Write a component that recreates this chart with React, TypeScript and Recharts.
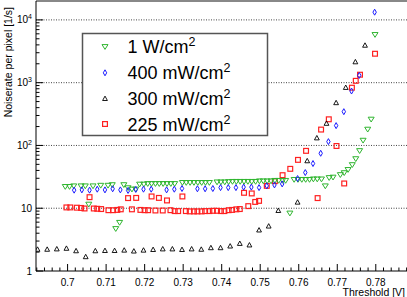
import React from 'react';
import { ScatterChart, Scatter, XAxis, YAxis, ReferenceLine } from 'recharts';

// 1 W/cm2 (green, open down-triangles)
const x1W = [
  0.6994, 0.7005, 0.7016, 0.7035, 0.7046, 0.7055, 0.7066, 0.7086, 0.7105, 0.7116,
  0.7125, 0.7135, 0.7146, 0.7157, 0.7167, 0.7177, 0.7187, 0.7198, 0.7208, 0.7218,
  0.7228, 0.7238, 0.7248, 0.7258, 0.7268, 0.7278, 0.7298, 0.7308, 0.7318, 0.7328,
  0.7338, 0.7348, 0.7358, 0.7368, 0.7388, 0.7398, 0.7408, 0.7418, 0.7428, 0.7438,
  0.7448, 0.7458, 0.7468, 0.7478, 0.7488, 0.7498, 0.7508, 0.7518, 0.7528, 0.7538,
  0.7548, 0.7558, 0.7566, 0.7577, 0.7588, 0.7598, 0.7608, 0.7618, 0.7628, 0.7638,
  0.7648, 0.7659, 0.7669, 0.7679, 0.7689, 0.7708, 0.7718, 0.7728, 0.7739, 0.7748,
  0.7758, 0.7767, 0.7779, 0.7788, 0.7798,
];
const y1W = [
  22, 22, 22.5, 22.5, 22.5, 11.5, 22.5, 23, 23, 23.5,
  4.7, 5.9, 23.5, 21, 20, 20, 24, 24, 24.5, 24.5,
  24.5, 24.5, 24.5, 24.5, 24.5, 24.5, 25.5, 25.5, 25.5, 25.5,
  25.5, 25.5, 25.5, 25.5, 26, 26, 26, 26.3, 26.5, 26.5,
  26.5, 26.5, 26.5, 26.5, 26.5, 27, 27, 27, 27, 27.5,
  27.5, 27.5, 27.5, 8.3, 28.5, 28.5, 28.5, 28.5, 28.5, 29,
  29, 29, 22.5, 30.5, 31, 34, 36.5, 41, 49, 61,
  82, 120, 180, 260, 5800,
];

// 400 mW/cm2 (blue, open diamonds)
const x400 = [
  0.7017, 0.7037, 0.7057, 0.7077, 0.7097, 0.7117, 0.7137, 0.7157, 0.7177, 0.7197,
  0.7217, 0.7257, 0.7277, 0.7297, 0.7337, 0.7357, 0.7377, 0.7397, 0.7417, 0.7437,
  0.7457, 0.7477, 0.7497, 0.7517, 0.7537, 0.7557, 0.7597, 0.7617, 0.7637, 0.7657,
  0.7677, 0.7697, 0.7717, 0.7737, 0.7757, 0.7797,
];
const y400 = [
  19.4, 19.6, 19.4, 20.1, 19.6, 20.4, 19.6, 19.2, 19.9, 20.1,
  20.1, 19.6, 20.1, 20.6, 20.4, 20.4, 20.6, 21.3, 21.3, 21.3,
  21.7, 21.7, 21.3, 22.7, 23.5, 24.4, 29.7, 37, 51.5, 75,
  115, 207, 345, 736, 1306, 13270,
];

// 300 mW/cm2 (black, open up-triangles)
const x300 = [
  0.6922, 0.6947, 0.6972, 0.6997, 0.7022, 0.7047, 0.7072, 0.7097, 0.7122, 0.7147,
  0.7172, 0.7197, 0.7222, 0.7247, 0.7272, 0.7297, 0.7322, 0.7347, 0.7372, 0.7397,
  0.7422, 0.7447, 0.7472, 0.7497, 0.7522, 0.7547, 0.7597, 0.7622, 0.7647, 0.7672,
  0.7697, 0.7722, 0.7747, 0.7772,
];
const y300 = [
  2.22, 2.22, 2.25, 2.3, 2.1, 1.69, 2.1, 2.12, 2.12, 2.15,
  2.08, 2.15, 2.2, 2.25, 2.25, 2.2, 2.25, 2.22, 2.35, 2.35,
  2.5, 2.75, 2.6, 4.5, 5.2, 9.2, 12.5, 57, 132, 225,
  480, 840, 2150, 3950,
];

// 225 mW/cm2 (red, open squares)
const x225 = [
  0.6997, 0.7007, 0.7024, 0.7035, 0.7044, 0.7057, 0.7068, 0.7077, 0.7087, 0.7106,
  0.7118, 0.7129, 0.7138, 0.7157, 0.7167, 0.7178, 0.7189, 0.72, 0.7209, 0.7218,
  0.7228, 0.7237, 0.7247, 0.7258, 0.7267, 0.7278, 0.7287, 0.7298, 0.7307, 0.7317,
  0.7328, 0.7337, 0.7348, 0.7357, 0.7368, 0.7377, 0.7388, 0.7398, 0.7407, 0.7418,
  0.7427, 0.7438, 0.7447, 0.7458, 0.7469, 0.7478, 0.7487, 0.7497, 0.7517, 0.7538,
  0.7558, 0.7578, 0.7598, 0.7619, 0.7649, 0.7658, 0.7678, 0.7698, 0.7718, 0.7738,
  0.7748, 0.7759, 0.7798,
];
const y225 = [
  10.3, 10.3, 10.2, 10.1, 9.9, 15, 9.9, 9.8, 9.7, 9.3,
  9.3, 9.4, 9.6, 14.5, 9.6, 14.6, 9.4, 9.3, 9.3, 15.4,
  9.2, 14.6, 9.2, 13.3, 9.3, 9.0, 9.0, 15.4, 9.0, 8.9,
  8.9, 8.9, 8.9, 9.0, 9.0, 9.1, 9.1, 9.0, 9.0, 9.3,
  9.4, 9.6, 9.7, 17.6, 10.8, 17.2, 12.6, 13.1, 22.7, 27,
  33.6, 42.4, 58.9, 82, 14.5, 179, 261, 98, 24.8, 832,
  1070, 1340, 2890,
];

const legendLabels = ['1 W/cm', '400 mW/cm', '300 mW/cm', '225 mW/cm'];

const majorXTicks = [0.7, 0.71, 0.72, 0.73, 0.74, 0.75, 0.76, 0.77, 0.78];
const minorXTicks = Array.from({ length: 49 }, (_, i) => +(0.692 + 0.002 * i).toFixed(3));
const majorYTicks = [1, 10, 100, 1000, 10000];
const yTickLabels = [['1', ''], ['10', ''], ['10', '2'], ['10', '3'], ['10', '4']];
const minorYTicks: number[] = [];
[1, 10, 100, 1000].forEach((d) => {
  for (let m = 2; m <= 9; m++) minorYTicks.push(m * d);
});

const GREEN = '#2fb52f';
const BLUE = '#1a1aff';
const BLACK = '#000';
const RED = '#ff2020';
const FONT = '"Liberation Sans", Arial, Helvetica, sans-serif';

const PLOT_LEFT = 36;

const toPoints = (xs: number[], ys: number[]) => xs.map((x, i) => ({ x, y: ys[i] }));

const DownTri = ({ cx, cy }: any) => (
  <polygon points={`${cx - 3},${cy - 2.2} ${cx + 3},${cy - 2.2} ${cx},${cy + 2.6}`} fill="none" stroke={GREEN} strokeWidth={1} />
);
const UpTri = ({ cx, cy }: any) => (
  <polygon points={`${cx - 2.4},${cy + 2} ${cx + 2.4},${cy + 2} ${cx},${cy - 2.4}`} fill="none" stroke={BLACK} strokeWidth={0.9} />
);
const Diamond = ({ cx, cy }: any) => (
  <polygon points={`${cx},${cy - 3} ${cx + 1.7},${cy} ${cx},${cy + 3} ${cx - 1.7},${cy}`} fill="none" stroke={BLUE} strokeWidth={1} />
);
const Square = ({ cx, cy }: any) => (
  <rect x={cx - 2.4} y={cy - 2.4} width={4.8} height={4.8} fill="none" stroke={RED} strokeWidth={1.2} />
);

const markers = [DownTri, Diamond, UpTri, Square];

const XTick = ({ x, y, payload }: any) => {
  const v = payload.value;
  const major = majorXTicks.some((t) => Math.abs(t - v) < 1e-6);
  return (
    <g>
      <line x1={x} x2={x} y1={y} y2={y - (major ? 7 : 3.5)} stroke="#000" strokeWidth={1} />
      {major && (
        <text x={x} y={y + 14.5} textAnchor="middle" fontSize={10} fontFamily={FONT} fill="#000">
          {String(v)}
        </text>
      )}
    </g>
  );
};

const YTick = ({ x, y, payload }: any) => {
  const v = payload.value;
  const idx = majorYTicks.indexOf(v);
  const major = idx >= 0;
  return (
    <g>
      <line x1={PLOT_LEFT} x2={PLOT_LEFT + (major ? 7 : 3.5)} y1={y} y2={y} stroke="#000" strokeWidth={1} />
      {major && (
        <text x={PLOT_LEFT - 4} y={y + 3.5} textAnchor="end" fontSize={10} fontFamily={FONT} fill="#000">
          {yTickLabels[idx][0]}
          {yTickLabels[idx][1] && (
            <tspan dy={-4} fontSize={7}>
              {yTickLabels[idx][1]}
            </tspan>
          )}
        </text>
      )}
    </g>
  );
};

const XTitle = () => (
  <text x={405} y={296} textAnchor="end" fontSize={10.5} fontFamily={FONT} fill="#000">
    Threshold [V]
  </text>
);
const YTitle = () => (
  <text transform="translate(11.5, 7) rotate(-90)" textAnchor="end" fontSize={10.5} fontFamily={FONT} fill="#000">
    Noiserate per pixel [1/s]
  </text>
);

const legendRowBaselines = [53.3, 79.3, 105, 130.5];

const App: React.FC = () => {
  const series = [
    { key: '225', data: toPoints(x225, y225), shape: Square },
    { key: '300', data: toPoints(x300, y300), shape: UpTri },
    { key: '1W', data: toPoints(x1W, y1W), shape: DownTri },
    { key: '400', data: toPoints(x400, y400), shape: Diamond },
  ];

  return (
    <div style={{ position: 'absolute', left: 0, top: 0, width: 407, height: 297, background: '#fff', overflow: 'hidden' }}>
      <ScatterChart width={407} height={297} margin={{ top: 1, right: 0, bottom: 0, left: 0 }}>
        <XAxis
          type="number"
          dataKey="x"
          domain={[0.6918, 0.7881]}
          allowDataOverflow
          ticks={minorXTicks}
          interval={0}
          tickSize={0}
          tickMargin={0}
          tickLine={false}
          tick={<XTick />}
          axisLine={{ stroke: '#000', strokeWidth: 1 }}
          height={26}
          label={<XTitle />}
        />
        <YAxis
          type="number"
          dataKey="y"
          scale="log"
          domain={[1, 20000]}
          allowDataOverflow
          ticks={[...majorYTicks, ...minorYTicks]}
          interval={0}
          tickSize={0}
          tickMargin={0}
          tickLine={false}
          tick={<YTick />}
          axisLine={{ stroke: '#000', strokeWidth: 1 }}
          width={36}
          label={<YTitle />}
        />
        {[10, 100, 1000, 10000].map((v) => (
          <ReferenceLine key={v} y={v} stroke="#444" strokeDasharray="1 1.5" strokeWidth={1} />
        ))}
        <ReferenceLine y={20000} stroke="#888" strokeWidth={2} />
        {series.map((s) => (
          <Scatter key={s.key} data={s.data} isAnimationActive={false} shape={(p: any) => <s.shape cx={p.cx} cy={p.cy} />} />
        ))}
      </ScatterChart>
      <svg width={407} height={297} style={{ position: 'absolute', left: 0, top: 0, pointerEvents: 'none' }}>
        <rect x={82.5} y={33.5} width={185} height={102} fill="#fff" stroke="#555" strokeWidth={1.5} />
        {legendLabels.map((label, i) => {
          const M = markers[i];
          const base = legendRowBaselines[i];
          return (
            <g key={label}>
              <M cx={105} cy={base - 6.5} />
              <text x={127.5} y={base} fontSize={18} fontFamily={FONT} fill="#000">
                {label}
                <tspan dy={-7} fontSize={12.5}>2</tspan>
              </text>
            </g>
          );
        })}
      </svg>
    </div>
  );
};

export default App;
